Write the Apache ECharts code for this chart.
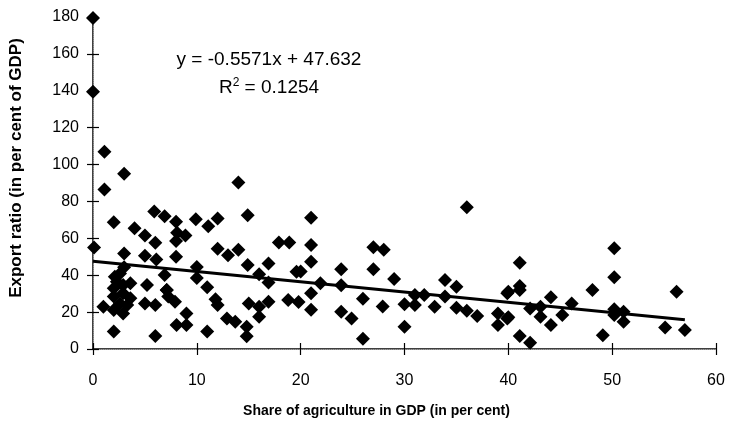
<!DOCTYPE html>
<html>
<head>
<meta charset="utf-8">
<script src="https://cdn.jsdelivr.net/npm/echarts@6/dist/echarts.min.js"></script>
<style>
  html, body { margin: 0; padding: 0; background: #fff; }
  #chart { width: 732px; height: 428px; }
</style>
</head>
<body>
<div id="chart"></div>
<script>
// Share of agriculture in GDP (per cent) for each country
const shareAgri = [
  0, 0, 1.1, 3, 1.1, 14, 0.1,
  2, 5.9, 6.9, 8, 9.9, 11.1, 12, 14.9, 4, 5, 6, 8.1, 8.9, 8,
  12, 13, 14, 17.9, 18.9,
  3, 5, 6.1, 8, 3, 10, 14.9, 16.9, 19.6, 6.9, 10, 2.1, 16,
  1, 2.6, 2.3, 2, 2.9, 3.6, 5.2, 7.1, 7.25, 2, 2.9, 3.6, 2.6, 3.3, 2, 2.9,
  5, 6, 7.9, 9, 8.05, 9, 2, 6, 11, 11.8, 12, 15, 16, 16.9, 16, 18.8, 19.8,
  12.9, 13.7, 14.8, 14.8, 11, 16.9, 7.1,
  21, 21, 21, 20, 21.9, 23.9, 23.9, 27, 28, 27, 29, 21, 21, 26, 23.9, 24.9,
  27.9, 30, 30, 26, 31, 31.9, 31, 33.9, 35, 36, 33.9, 32.9, 35, 36, 37, 39,
  39, 39.9, 39.9,
  41.1, 41.1, 41.1, 40, 40, 42.1, 43.1, 43.1, 44.1, 44.1, 45.2, 46.1, 41.1,
  42.1, 48.1, 49.1, 50.2, 50.2, 50.2, 50.2, 51.1, 51.1, 56.2, 55.1, 57
];

// Export ratio (per cent of GDP), same order as shareAgri
const exportRatio = [
  179.5, 139.5, 107, 95, 86.5, 90.3, 55,
  68.7, 74.5, 72, 69, 70.3, 66.5, 70.8, 72.5, 65.4, 61.5, 57.6, 63, 61.5, 58.5,
  54.4, 50.8, 53.8, 57.8, 57.8,
  51.8, 50.5, 48.5, 50, 44.3, 44.5, 45.5, 46.4, 41.9, 40.1, 38.5, 39.2, 40.5,
  22.9, 41, 36.5, 32.9, 34.7, 35.6, 34.7, 32, 28.4, 28.4, 30.2, 27.5, 24.7, 23.9, 21.1, 19.3,
  24.7, 23.9, 25.6, 19.3, 13, 13, 9.5, 7, 33.5, 27, 23.9, 24.7, 22.9, 25.6, 17.5, 26.6, 25.5,
  16.6, 14.8, 12.1, 6.9, 9.5, 36, 32,
  71.2, 56.4, 47.3, 42, 35.6, 43.2, 34.5, 55.2, 53.8, 43.2, 38, 30.2, 21.3, 27.3, 20.2, 16.6,
  23.1, 24.2, 12.1, 5.5, 29.3, 29.3, 23.9, 37.4, 33.8, 76.8, 28.4, 22.9, 22.4, 20.8, 17.9, 19.3,
  13, 30.2, 16.6,
  46.8, 34.2, 32, 31, 17.2, 22, 22.9, 17.5, 28, 13, 18.4, 24.7, 7,
  3.4, 32, 7.5, 54.6, 38.9, 21.5, 18.5, 20.2, 14.8, 31.1, 11.6, 10.3
];

// Linear trend fitted to the data
const trendSlope = -0.5571;
const trendIntercept = 47.632;
const rSquared = 0.1254;

// Axis ranges and tick steps
const xRange = [0, 60];
const xStep = 10;
const yRange = [0, 180];
const yStep = 20;

const points = shareAgri.map((x, i) => [x, exportRatio[i]]);
const xLast = Math.max(...shareAgri);
const trendLine = [0, xLast].map(x => [x, trendIntercept + trendSlope * x]);

const FONT = '"Liberation Sans", Arial, sans-serif';
const chart = echarts.init(document.getElementById('chart'), null, { renderer: 'canvas' });

const baseX = { type: 'value', min: xRange[0], max: xRange[1], interval: xStep, splitLine: { show: false } };
const baseY = { type: 'value', min: yRange[0], max: yRange[1], interval: yStep, splitLine: { show: false } };

chart.setOption({
  backgroundColor: '#fff',
  animation: false,
  grid: { left: 90, right: 16, top: 17, bottom: 79, containLabel: false },
  xAxis: [
    Object.assign({}, baseX, {
      position: 'bottom',
      axisLine: { lineStyle: { color: '#000', width: 1.5 } },
      axisTick: { show: true, inside: false, length: 6, lineStyle: { color: '#000', width: 1.2 } },
      axisLabel: { color: '#000', fontFamily: FONT, fontSize: 16, margin: 24 },
      name: 'Share of agriculture in GDP (in per cent)',
      nameLocation: 'middle',
      nameGap: 55,
      nameTextStyle: { color: '#000', fontFamily: FONT, fontSize: 14, fontWeight: 'bold', padding: [0, 56, 0, 0] }
    }),
    Object.assign({}, baseX, {
      position: 'bottom',
      axisLine: { show: false },
      axisTick: { show: true, inside: true, length: 6, lineStyle: { color: '#000', width: 1.2 } },
      axisLabel: { show: false }
    }),
    Object.assign({}, baseX, {
      position: 'top',
      axisLine: { show: true, lineStyle: { color: '#9a9a9a', width: 1, type: 'dotted' } },
      axisTick: { show: false },
      axisLabel: { show: false }
    })
  ],
  yAxis: [
    Object.assign({}, baseY, {
      position: 'left',
      axisLine: { lineStyle: { color: '#000', width: 1.5 } },
      axisTick: { show: true, inside: false, length: 6, lineStyle: { color: '#000', width: 1.2 } },
      axisLabel: { color: '#000', fontFamily: FONT, fontSize: 16, margin: 14 },
      name: 'Export ratio (in per cent of GDP)',
      nameLocation: 'middle',
      nameGap: 68,
      nameTextStyle: { color: '#000', fontFamily: FONT, fontSize: 17, fontWeight: 'bold', padding: [0, 0, 0, 30] }
    }),
    Object.assign({}, baseY, {
      position: 'left',
      axisLine: { show: false },
      axisTick: { show: true, inside: true, length: 6, lineStyle: { color: '#000', width: 1.2 } },
      axisLabel: { show: false }
    }),
    Object.assign({}, baseY, {
      position: 'right',
      axisLine: { show: true, lineStyle: { color: '#9a9a9a', width: 1, type: 'dotted' } },
      axisTick: { show: false },
      axisLabel: { show: false }
    })
  ],
  series: [
    {
      type: 'scatter',
      xAxisIndex: 0,
      yAxisIndex: 0,
      data: points,
      symbol: 'diamond',
      symbolSize: 14,
      itemStyle: { color: '#000', opacity: 1 },
      silent: true
    },
    {
      type: 'line',
      xAxisIndex: 0,
      yAxisIndex: 0,
      data: trendLine,
      symbol: 'none',
      lineStyle: { color: '#000', width: 3 },
      silent: true,
      z: 3
    }
  ],
  graphic: [
    {
      type: 'text',
      x: 269,
      y: 60,
      style: {
        text: 'y = ' + trendSlope.toFixed(4) + 'x + ' + trendIntercept.toFixed(3),
        font: '19px ' + FONT,
        fill: '#000',
        align: 'center',
        verticalAlign: 'middle'
      }
    },
    {
      type: 'text',
      x: 269,
      y: 87,
      style: {
        text: '{b|R}{s|2}{b| = ' + rSquared.toFixed(4) + '}',
        align: 'center',
        verticalAlign: 'middle',
        rich: {
          b: { font: '19px ' + FONT, fill: '#000', verticalAlign: 'bottom' },
          s: { font: '12px ' + FONT, fill: '#000', verticalAlign: 'top', padding: [0, 0, 8, 0] }
        }
      }
    }
  ]
});
</script>
</body>
</html>
